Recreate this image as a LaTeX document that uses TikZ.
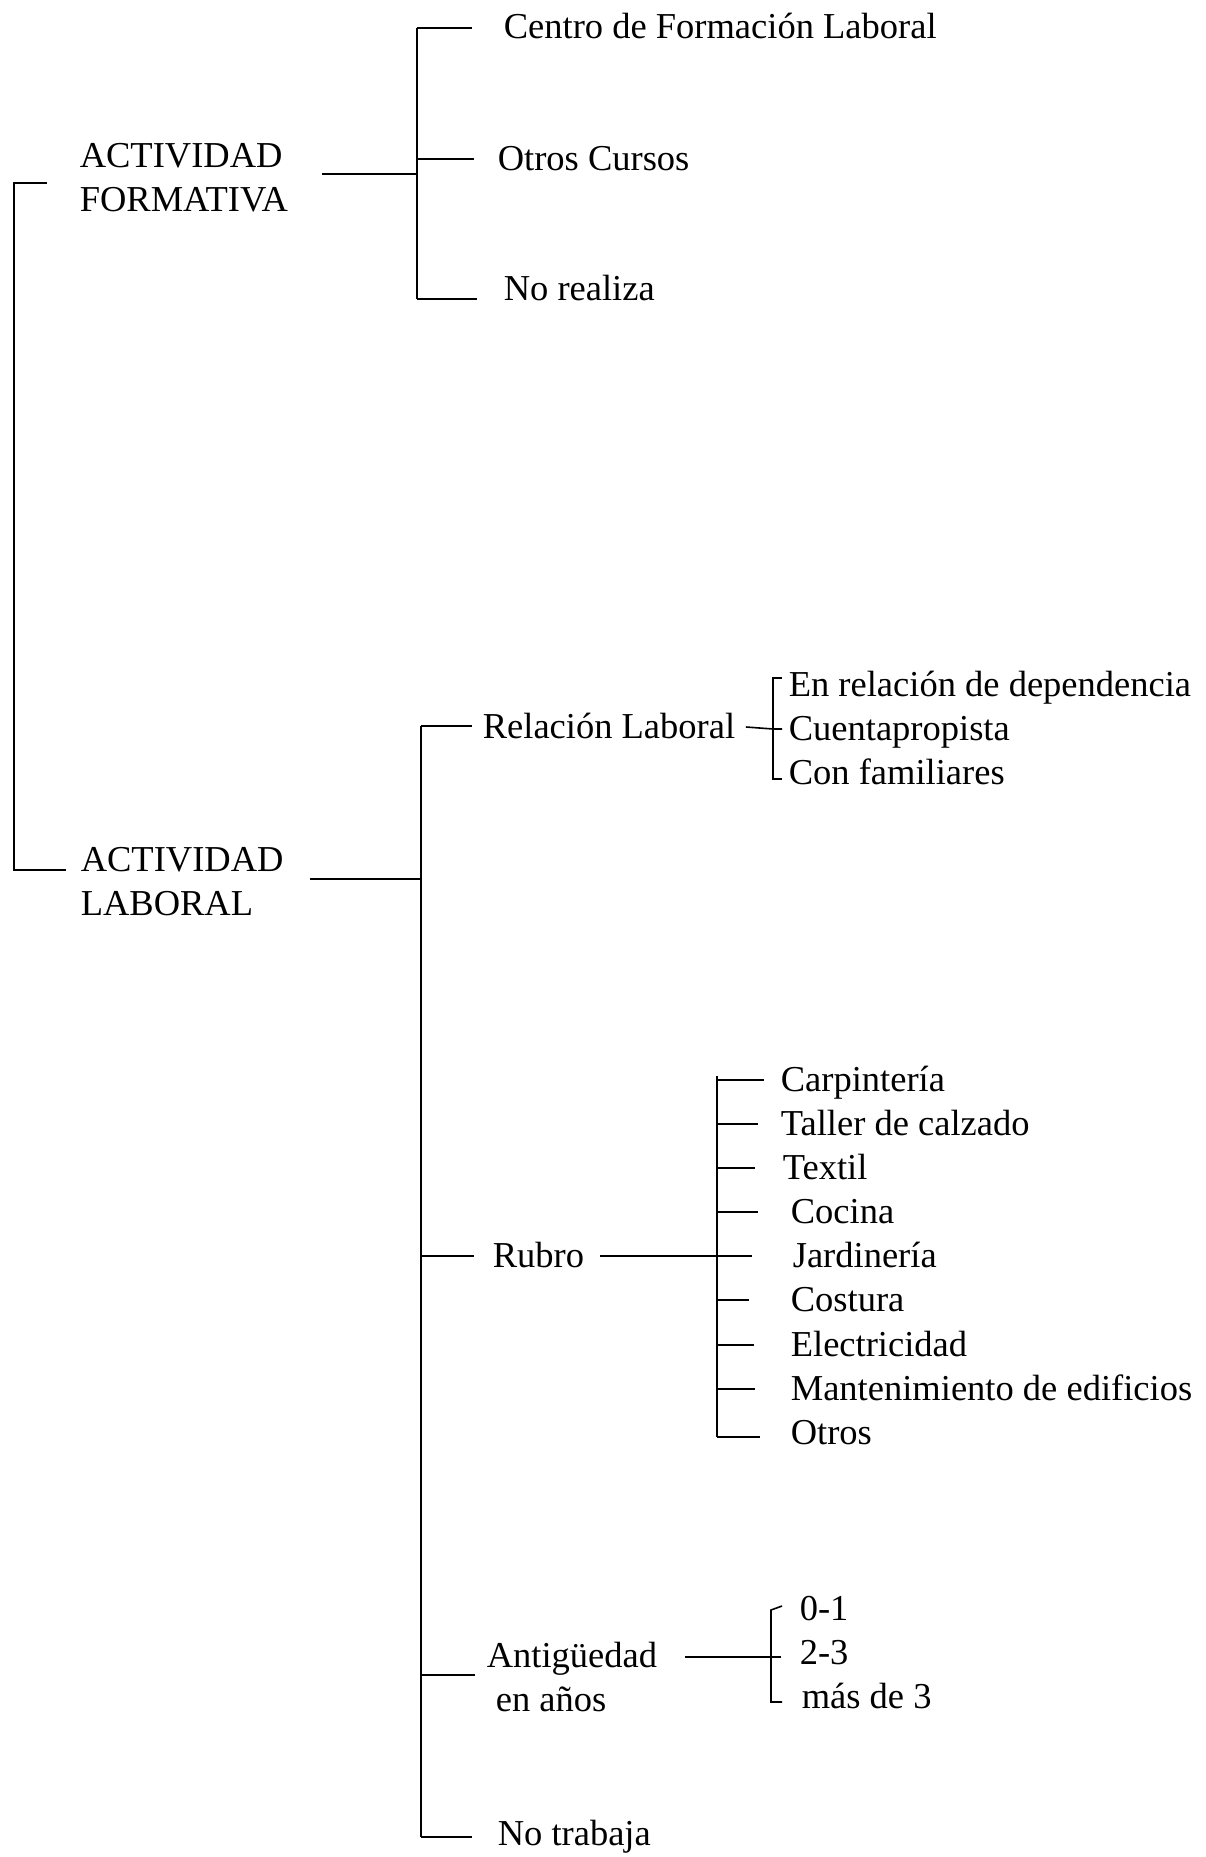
\documentclass[tikz,border=0pt]{standalone}
\usepackage{fontspec}
\setmainfont{Liberation Serif}
\tikzstyle{two lines}=[
    anchor = north west,
    inner sep = 0pt,
    align = left
]

\begin{document}
\begin{tikzpicture}[x=1pt, y=-1pt, line width=1.6pt, font=\fontsize{36.5}{44}\selectfont,
    item/.style = {anchor=west, inner sep=0pt, text height=23pt, text depth=0pt},
    brace/.style = {line width=2.2pt}]
        \useasboundingbox (0,0) rectangle (1205,1857);

        \node[two lines] (actF) at (79,143) {ACTIVIDAD\\FORMATIVA};
        \node[two lines] (actL) at (80,847) {ACTIVIDAD\\LABORAL};

        \node[item] (centro) at (503,27) {Centro de Formación Laboral};
        \node[item] (cursos) at (497,159) {Otros Cursos};
        \node[item] (norealiza) at (503,289) {No realiza};

        \node[item] (relacion) at (482,727) {Relación Laboral};
        \node[item] (dependencia) at (788,685) {En relación de dependencia};
        \node[item] (cuenta) at (788,729) {Cuentapropista};
        \node[item] (familiares) at (788,773) {Con familiares};

        \node[item] (rubro) at (492,1256) {Rubro};
        \node[item] (carpinteria) at (780,1080) {Carpintería};
        \node[item] (calzado) at (780,1124) {Taller de calzado};
        \node[item] (textil) at (782,1168) {Textil};
        \node[item] (cocina) at (790,1212) {Cocina};
        \node[item] (jardineria) at (792,1256) {Jardinería};
        \node[item] (costura) at (790,1300) {Costura};
        \node[item] (electricidad) at (790,1345) {Electricidad};
        \node[item] (edificios) at (790,1389) {Mantenimiento de edificios};
        \node[item] (otros) at (790,1433) {Otros};

        \node[two lines] (antiguedad) at (486,1641) {Antigüedad\\\hspace*{9pt}en años};
        \node[item] (uno) at (799,1609) {0-1};
        \node[item] (tres) at (799,1653) {2-3};
        \node[item] (mas) at (801,1697) {más de 3};

        \node[item] (notrabaja) at (497,1834) {No trabaja};

        \coordinate (top) at (14,183);
        \coordinate (bot) at (14,870);
        \draw[brace] (top) ++(33,0) -- (top) -- (bot) -- ++(52,0);

        \coordinate (fTop) at (417,28);
        \coordinate (fBot) at (417,299);
        \draw[brace] (fTop) -- (fBot);
        \draw[-] (fTop) -- ++(55,0);
        \draw[-] (fBot) -- ++(60,0);
        \draw[-] (fTop |- 0,159) -- ++(57,0);
        \draw[-] (322,174) -- (fTop |- 0,174);

        \coordinate (lTop) at (421,726);
        \coordinate (lBot) at (421,1837);
        \draw[brace] (lTop) -- (lBot);
        \draw[-] (lTop) -- ++(51,0);
        \draw[-] (lBot) -- ++(51,0);
        \draw[-] (lTop |- rubro.west) -- ++(53,0);
        \draw[-] (lTop |- 0,1675) -- ++(54,0);
        \draw[-] (310,879) -- (lTop |- 0,879);

        \coordinate (rTop) at (773,678);
        \coordinate (rBot) at (773,779);
        \draw[-] (rTop) ++(9,0) -- (rTop) -- (rBot) -- ++(9,0);
        \draw[-] ([xshift=10pt]relacion.east) -- (rTop |- cuenta.west) -- ++(9,0);

        \coordinate (bTop) at (717,1076);
        \coordinate (bBot) at (717,1437);
        \draw[-] (bTop) -- (bBot);
        \draw[-] ([xshift=15pt]rubro.east) -- (bTop |- jardineria.west) -- ++(35,0);
        \draw[-] (bTop |- carpinteria.west) -- ++(47,0);
        \draw[-] (bTop |- calzado.west) -- ++(41,0);
        \draw[-] (bTop |- textil.west) -- ++(38,0);
        \draw[-] (bTop |- cocina.west) -- ++(41,0);
        \draw[-] (bTop |- costura.west) -- ++(32,0);
        \draw[-] (bTop |- electricidad.west) -- ++(37,0);
        \draw[-] (bTop |- edificios.west) -- ++(38,0);
        \draw[-] (bBot) -- ++(43,0);

        \coordinate (aTop) at (771,1610);
        \coordinate (aBot) at (771,1702);
        \draw[-] (aTop) ++(11,-4) -- (aTop) -- (aBot) -- ++(11,0);
        \draw[-] (685,1657) -- (aTop |- 0,1657) -- ++(10,0);

    \end{tikzpicture}
\end{document}
